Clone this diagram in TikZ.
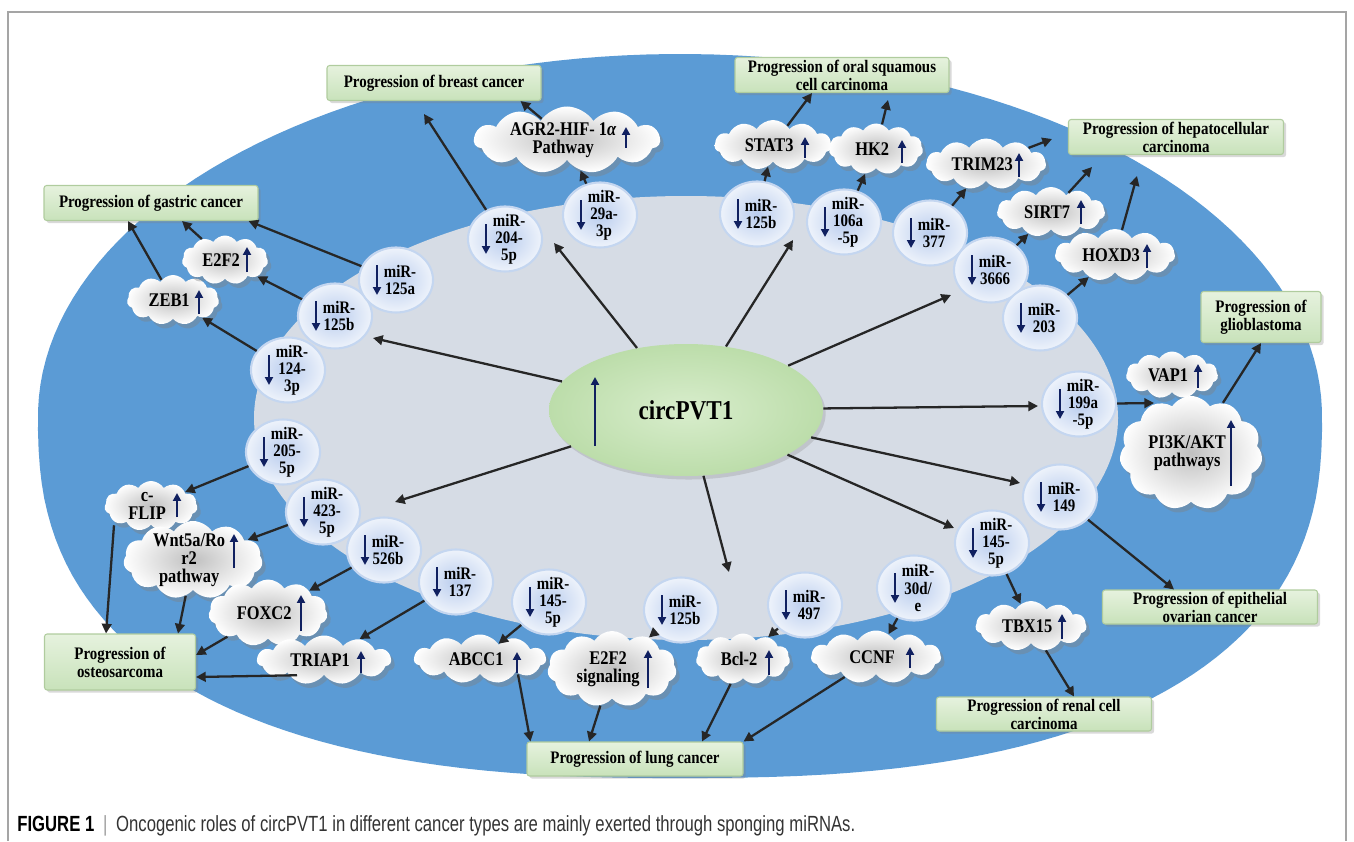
\documentclass[tikz,border=0pt]{standalone}
\usepackage{fontspec}
\setmainfont{Liberation Serif}
\newfontfamily\lblfont[FakeStretch=0.85]{Liberation Serif}
\newfontfamily\capfont[FakeStretch=0.76]{Liberation Sans}
\usetikzlibrary{shapes.geometric,shapes.symbols,shadows,arrows.meta}

\definecolor{outerblue}{RGB}{91,155,213}
\definecolor{innergray}{RGB}{214,220,229}
\definecolor{navy}{RGB}{16,32,96}
\definecolor{boxtop}{RGB}{230,242,222}
\definecolor{boxbot}{RGB}{200,226,186}
\definecolor{boxline}{RGB}{176,204,158}
\definecolor{mirin}{RGB}{186,205,238}
\definecolor{mirout}{RGB}{238,243,251}
\definecolor{mirline}{RGB}{196,214,240}
\definecolor{cldin}{RGB}{192,192,192}
\definecolor{circin}{RGB}{216,237,204}
\definecolor{circout}{RGB}{188,221,170}
\definecolor{framegray}{RGB}{165,165,165}

\newcommand\pxs{0.02cm}

\tikzset{
  prog/.style={rectangle, rounded corners=1.5pt, top color=boxtop, bottom color=boxbot,
    draw=boxline, line width=0.6pt, align=center, inner sep=0pt,
    font=\lblfont\fontsize{10}{10.2}\selectfont\bfseries,
    drop shadow={shadow xshift=1.5pt, shadow yshift=-1.5pt, opacity=0.3}},
  mir/.style={ellipse, minimum width=74*\pxs, minimum height=65*\pxs, inner sep=0pt,
    inner color=mirin, outer color=mirout, draw=mirline, line width=1.2pt,
    label={[mirtxt]center:#1}},
  mirtxt/.style={font=\lblfont\fontsize{10}{9.7}\selectfont\bfseries, align=center, inner sep=0pt, xshift=2.3pt},
  cld/.style={cloud, cloud puffs=11, cloud puff arc=115, cloud ignores aspect, inner sep=0pt,
    inner color=cldin, outer color=white,
    drop shadow={shadow xshift=2pt, shadow yshift=-2.5pt, opacity=0.4},
    label={[cldtxt]center:#1}},
  cldtxt/.style={font=\lblfont\fontsize{11}{10.2}\selectfont\bfseries, align=center, inner sep=0pt, xshift=-2.2pt},
  hub/.style={ellipse, minimum width=274*\pxs, minimum height=132*\pxs, inner color=circin,
    outer color=circout, font=\lblfont\fontsize{15.5}{17}\selectfont\bfseries,
    drop shadow={shadow xshift=1.5pt, shadow yshift=-2pt, opacity=0.25}},
  con/.style={draw=black!85, line width=1.3pt, -{Triangle[length=5.5pt,width=5.5pt]}},
  upar/.style={draw=navy, line width=1.3pt, -{Triangle[length=4.5pt,width=4.5pt]}},
}

\begin{document}
\begin{tikzpicture}[x=0.02cm, y=-0.02cm]
\useasboundingbox (0,0) rectangle (1354,841);
\draw[framegray, line width=0.9pt] (8,841) -- (8,12) -- (1346,12) -- (1346,841);

% blue ring and light inner part
\fill[outerblue] plot[domain=1:359, samples=180]
  ({680+642*sign(cos(\x))*abs(cos(\x))^((\x<180) ? 0.8 : 1)},
   {416+362*sign(sin(\x))*abs(sin(\x))^((\x<180) ? 0.8 : 1)}) -- cycle;
\fill[innergray] (686,418) ellipse [x radius=432, y radius=222];

\node[hub] (circ) at (686,410) {circPVT1};
\draw[upar, line width=1.5pt] ([shift={(-91,36)}]circ.center) -- ([shift={(-91,-33)}]circ.center);

% cancer boxes
\node[prog, minimum width=214*\pxs, minimum height=35*\pxs] (bBreast) at (434,83) {Progression of breast cancer};
\node[prog, minimum width=214*\pxs, minimum height=35*\pxs] (bGastric) at (151,203) {Progression of gastric cancer};
\node[prog, minimum width=214*\pxs, minimum height=35*\pxs] (bOral) at (842,75) {Progression of oral squamous\\cell carcinoma};
\node[prog, minimum width=215*\pxs, minimum height=35*\pxs] (bHepato) at (1176,137) {Progression of hepatocellular\\carcinoma};
\node[prog, minimum width=120*\pxs, minimum height=51*\pxs] (bGlio) at (1261,317) {Progression of\\glioblastoma};
\node[prog, minimum width=215*\pxs, minimum height=34*\pxs] (bOvarian) at (1210,607) {Progression of epithelial\\ovarian cancer};
\node[prog, minimum width=215*\pxs, minimum height=34*\pxs] (bRenal) at (1044,714) {Progression of renal cell\\carcinoma};
\node[prog, minimum width=216*\pxs, minimum height=34*\pxs] (bLung) at (635,759) {Progression of lung cancer};
\node[prog, minimum width=151*\pxs, minimum height=56*\pxs] (bOsteo) at (120,662) {Progression of\\osteosarcoma};

% miRNAs
\node[mir={miR-\\204-\\5p}] (m204) at (505,239) {};
\node[mir={miR-\\29a-\\3p}] (m29a) at (600,215) {};
\node[mir={miR-\\125b}] (m125bT) at (757,214) {};
\node[mir={miR-\\106a\\-5p}] (m106a) at (844,222) {};
\node[mir={miR-\\377}] (m377) at (930,233) {};
\node[mir={miR-\\3666}] (m3666) at (991,270) {};
\node[mir={miR-\\203}] (m203) at (1040,318) {};
\node[mir={miR-\\199a\\-5p}] (m199a) at (1079,404) {};
\node[mir={miR-\\149}] (m149) at (1060,497) {};
\node[mir={miR-\\145-\\5p}] (m145R) at (992,543) {};
\node[mir={miR-\\30d/\\e}] (m30d) at (914,588) {};
\node[mir={miR-\\497}] (m497) at (805,605) {};
\node[mir={miR-\\125b}] (m125bB) at (681,610) {};
\node[mir={miR-\\145-\\5p}] (m145B) at (549,602) {};
\node[mir={miR-\\137}] (m137) at (456,582) {};
\node[mir={miR-\\526b}] (m526b) at (384,550) {};
\node[mir={miR-\\423-\\5p}] (m423) at (323,512) {};
\node[mir={miR-\\205-\\5p}] (m205) at (283,452) {};
\node[mir={miR-\\124-\\3p}] (m124) at (288,370) {};
\node[mir={miR-\\125b}] (m125bL) at (335,316) {};
\node[mir={miR-\\125a}] (m125a) at (396,280) {};
\foreach \n in {m204,m29a,m125bT,m106a,m377,m3666,m203,m199a,m149,m145R,m30d,m497,m125bB,m145B,m137,m526b,m423,m205,m124,m125bL,m125a}
  \draw[upar] ([shift={(-19,-15)}]\n.center) -- ([shift={(-19,15)}]\n.center);

% targets
\node[cld={AGR2-HIF- 1{\itshape α}\\Pathway}, minimum width=186*\pxs, minimum height=67*\pxs] (agr) at (567,140) {};
\node[cld={ZEB1}, minimum width=92*\pxs, minimum height=50*\pxs] (zeb) at (173,300) {};
\node[cld={E2F2}, minimum width=86*\pxs, minimum height=49*\pxs] (e2f2a) at (225,260) {};
\node[cld={STAT3}, minimum width=117*\pxs, minimum height=50*\pxs] (stat) at (773,145) {};
\node[cld={HK2}, minimum width=94*\pxs, minimum height=51*\pxs] (hk2) at (876,149) {};
\node[cld={TRIM23}, minimum width=120*\pxs, minimum height=51*\pxs] (trim) at (986,164) {};
\node[cld={SIRT7}, minimum width=108*\pxs, minimum height=50*\pxs] (sirt) at (1051,212) {};
\node[cld={HOXD3}, minimum width=120*\pxs, minimum height=52*\pxs] (hoxd) at (1115,255) {};
\node[cld={VAP1}, minimum width=92*\pxs, minimum height=47*\pxs] (vap) at (1172,375) {};
\node[cld={PI3K/AKT\\pathways}, minimum width=143*\pxs, minimum height=114*\pxs] (pi3k) at (1191,453) {};
\node[cld={c-\\FLIP}, minimum width=93*\pxs, minimum height=50*\pxs] (cflip) at (151,506) {};
\node[cld={Wnt5a/Ro\\r2\\pathway}, minimum width=139*\pxs, minimum height=78*\pxs] (wnt) at (193,560) {};
\node[cld={FOXC2}, minimum width=119*\pxs, minimum height=67*\pxs] (foxc) at (268,613) {};
\node[cld={TRIAP1}, minimum width=134*\pxs, minimum height=49*\pxs] (triap) at (324,660) {};
\node[cld={ABCC1}, minimum width=132*\pxs, minimum height=49*\pxs] (abcc) at (480,659) {};
\node[cld={E2F2\\signaling}, minimum width=129*\pxs, minimum height=76*\pxs] (e2f2s) at (612,669) {};
\node[cld={Bcl-2}, minimum width=94*\pxs, minimum height=51*\pxs] (bcl) at (743,659) {};
\node[cld={CCNF}, minimum width=130*\pxs, minimum height=53*\pxs] (ccnf) at (876,657) {};
\node[cld={TBX15}, minimum width=111*\pxs, minimum height=50*\pxs] (tbx) at (1031,626) {};
\foreach \n/\dx/\ya/\yb in {agr/59/-13/8, zeb/26/-10/14, e2f2a/22/-13/12, stat/32/-8/13, hk2/26/-9/14,
    trim/33/-11/13, sirt/30/-12/12, hoxd/32/-11/13, vap/26/-11/13, pi3k/40/-33/33, cflip/26/-13/11,
    wnt/41/-26/8, foxc/33/-18/18, triap/37/-9/13, abcc/37/-7/14, e2f2s/36/-19/19, bcl/26/-9/16,
    ccnf/34/-10/11, tbx/31/-12/13}
  \draw[upar] ([shift={(\dx,\yb)}]\n.center) -- ([shift={(\dx,\ya)}]\n.center);

% free arrow ends
\coordinate (tA) at (554,243);
\coordinate (tB) at (373,338);
\coordinate (tC) at (793,240);
\coordinate (tD) at (951,295);
\coordinate (tE) at (1038,406);
\coordinate (tF) at (1020,483);
\coordinate (tG) at (954,528);
\coordinate (tH) at (729,572);
\coordinate (tI) at (395,502);
\coordinate (tBreast) at (424,114);
\coordinate (tOral) at (888,100);
\coordinate (tHep1) at (1052,139);
\coordinate (tHep2) at (1092,167);
\coordinate (tHep3) at (1137,176);
\coordinate (tPI) at (1154,403);

\foreach \t in {tA,tB,tC,tD,tE,tF,tG,tH,tI}
  \draw[con] (circ) -- (\t);

% gastric and breast
\draw[con] (zeb) -- ([shift={(-23,0)}]bGastric.south);
\draw[con] (e2f2a) -- ([shift={(31,0)}]bGastric.south);
\draw[con] (m125a) -- ([shift={(-10,0)}]bGastric.south east);
\draw[con] (m125bL) -- (e2f2a);
\draw[con] (m124) -- (zeb);
\draw[con] (m204) -- (tBreast);
\draw[con] (m29a) -- (agr);
\draw[con] (agr) -- ([shift={(-21,0)}]bBreast.south east);
% oral and hepatocellular
\draw[con] (m125bT) -- (stat);
\draw[con] (stat) -- ([shift={(-30,0)}]bOral.south);
\draw[con] (m106a) -- (hk2);
\draw[con] (hk2) -- (tOral);
\draw[con] (m377) -- (trim);
\draw[con] (trim) -- (tHep1);
\draw[con] (m3666) -- (sirt);
\draw[con] (sirt) -- (tHep2);
\draw[con] (m203) -- (hoxd);
\draw[con] (hoxd) -- (tHep3);
% glioblastoma, ovarian, renal
\draw[con] (m199a) -- (tPI);
\draw[con] (pi3k) -- (bGlio.south);
\draw[con] (m149) -- ([shift={(-36,0)}]bOvarian.north);
\draw[con] (m145R) -- (tbx);
\draw[con] (tbx) -- ([shift={(30,0)}]bRenal.north);
% lung
\draw[con] (m30d) -- (ccnf);
\draw[con] (ccnf) -- (bLung.north east);
\draw[con] (m497) -- (bcl);
\draw[con] (bcl) -- ([shift={(67,0)}]bLung.north);
\draw[con] (m125bB) -- (e2f2s);
\draw[con] (e2f2s) -- ([shift={(-46,0)}]bLung.north);
\draw[con] (m145B) -- (abcc);
\draw[con] ([shift={(38,0)}]abcc.south) -- ([shift={(4,0)}]bLung.north west);
% osteosarcoma
\draw[con] (m137) -- (triap);
\draw[con] ([shift={(-27,0)}]triap.south) -- ([shift={(0,15)}]bOsteo.east);
\draw[con] (foxc) -- ([shift={(0,-7)}]bOsteo.east);
\draw[con] (m526b) -- (foxc);
\draw[con] (wnt) -- ([shift={(58,0)}]bOsteo.north);
\draw[con] (m423) -- (wnt);
\draw[con] (m205) -- (cflip);
\draw[con] ([shift={(-37,0)}]cflip.south) -- ([shift={(-14,0)}]bOsteo.north);

\node[anchor=base west, inner sep=0pt, font={\capfont\fontsize{12.5}{14}\selectfont}, text=black!80] (capt) at (17,831)
  {\textbf{\color{black}FIGURE 1}\hspace{5pt}{\color{black!40}|}\hspace{5pt}Oncogenic roles of circPVT1 in different cancer types are mainly exerted through sponging miRNAs.};
\end{tikzpicture}
\end{document}
